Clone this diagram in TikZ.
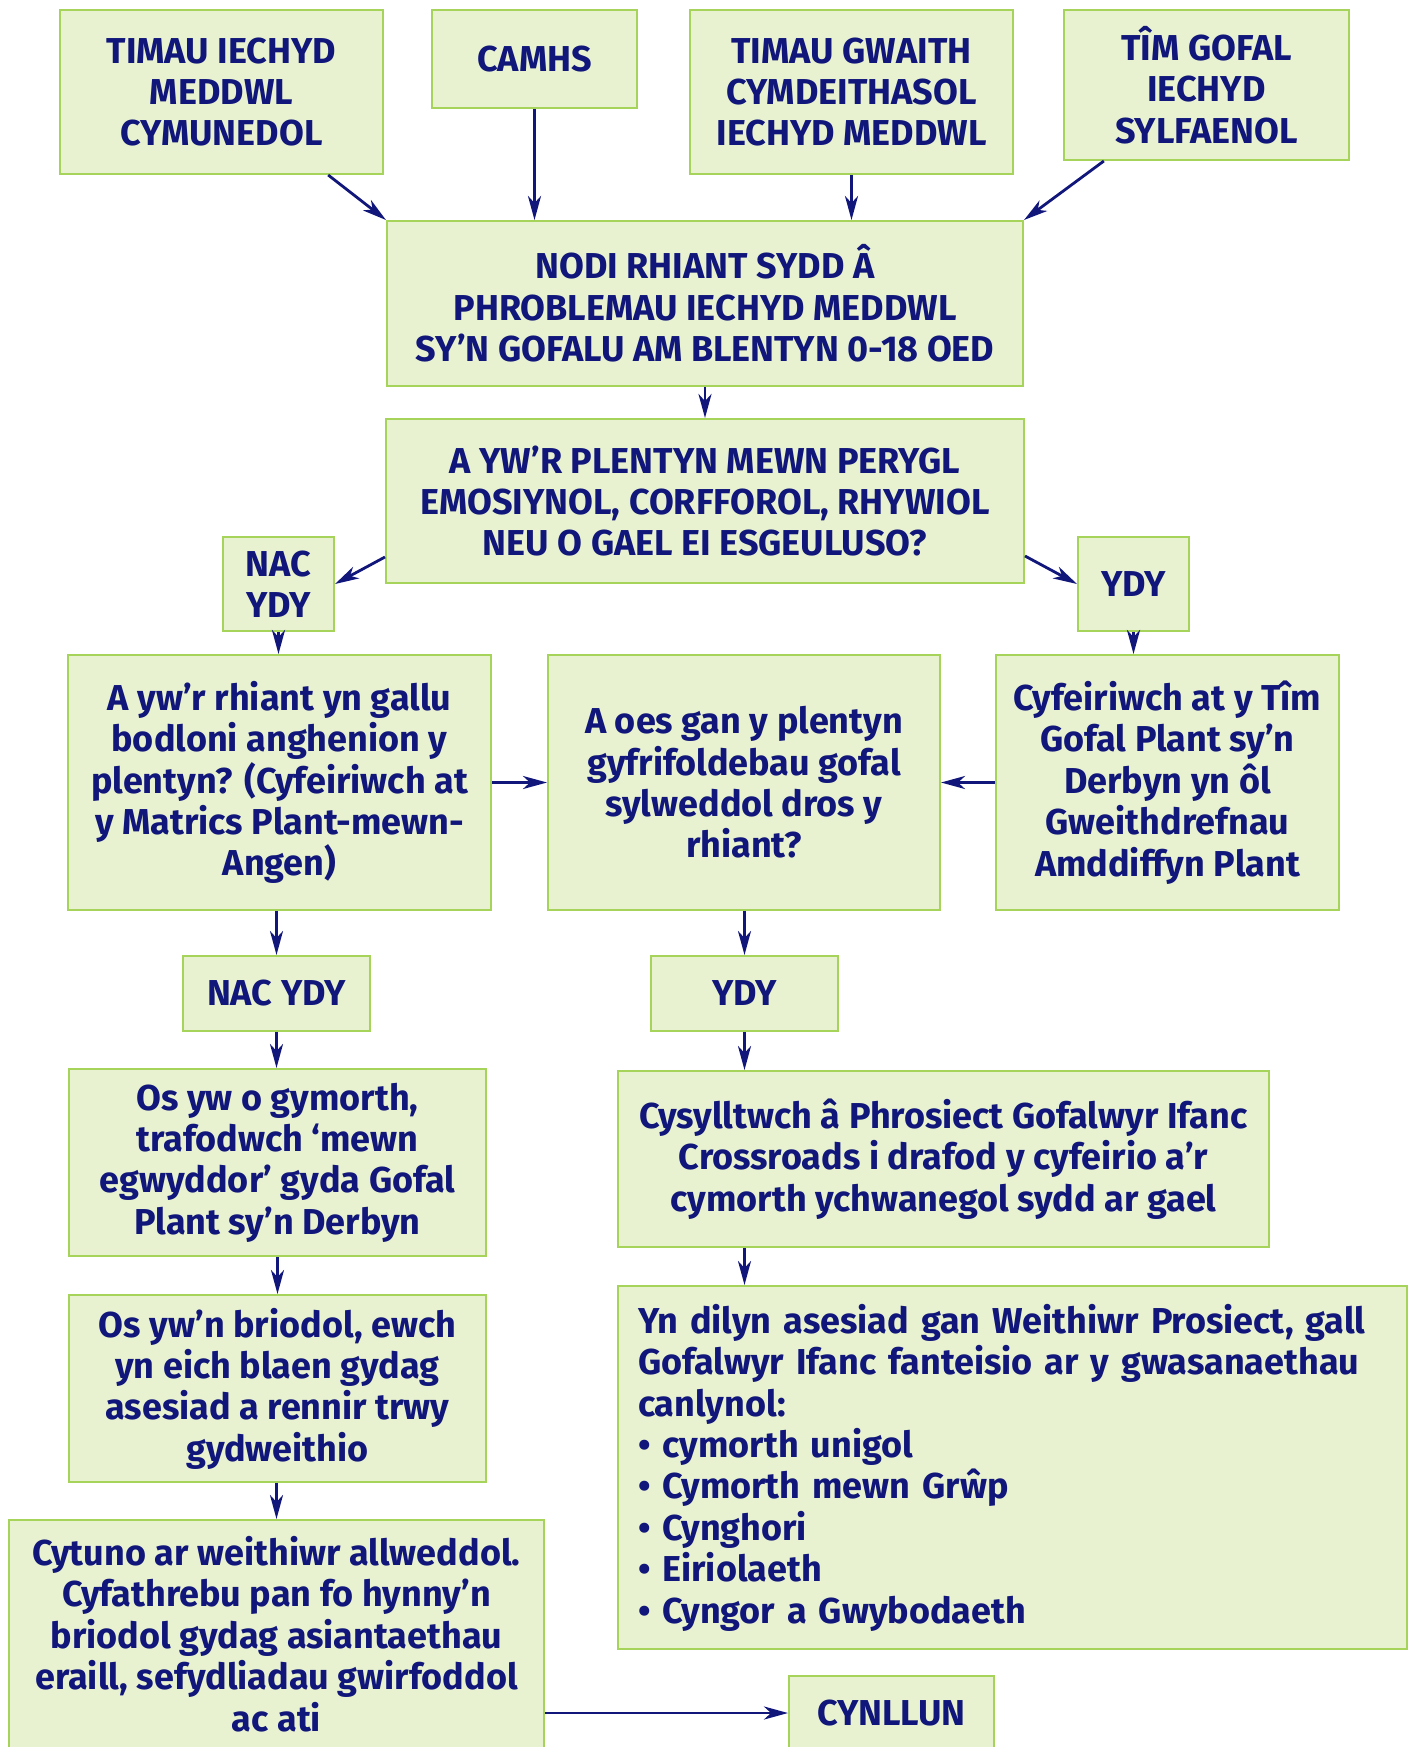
\documentclass[tikz,border=0pt]{standalone}
\usepackage{fontspec}
\setmainfont{Fira Sans}
\usetikzlibrary{arrows.meta}
\definecolor{boxfill}{RGB}{233,242,208}
\definecolor{boxedge}{RGB}{166,211,90}
\definecolor{ink}{RGB}{16,22,122}

\begin{document}
\begin{tikzpicture}[
      x=0.5pt, y=-0.5pt,
      box/.style={draw=boxedge, fill=boxfill, line width=1pt, inner sep=0pt,
        align=center, text=ink, font=\bfseries\fontsize{18pt}{20.7pt}\selectfont},
      link/.style={draw=ink, line width=1.4pt,
        -{Stealth[length=12pt,width=6.5pt,inset=3.5pt]}}
    ]
    \useasboundingbox (0,0) rectangle (1414,1747);
    \node (iechyd) [box, minimum width=161.5pt, minimum height=82pt] at (221.5,92)
      {TIMAU IECHYD\\MEDDWL\\CYMUNEDOL};
    \node (camhs) [box, minimum width=102.5pt, minimum height=49pt] at (534.5,59)
      {CAMHS};
    \node (gwaith) [box, minimum width=161.5pt, minimum height=82pt] at (851.5,92)
      {TIMAU GWAITH\\CYMDEITHASOL\\IECHYD MEDDWL};
    \node (gofal) [box, minimum width=142.5pt, minimum height=75pt] at (1206.5,85)
      {TÎM GOFAL\\IECHYD\\SYLFAENOL};
    \node (nodi) [box, minimum width=318pt, minimum height=82.5pt] at (705,303.5)
      {NODI RHIANT SYDD Â\\PHROBLEMAU IECHYD MEDDWL\\SY’N GOFALU AM BLENTYN 0-18 OED};
    \node (perygl) [box, minimum width=319pt, minimum height=82pt] at (705,501)
      {A YW’R PLENTYN MEWN PERYGL\\EMOSIYNOL, CORFFOROL, RHYWIOL\\NEU O GAEL EI ESGEULUSO?};
    \node (nacA) [box, minimum width=55.5pt, minimum height=47pt] at (278.5,584)
      {NAC\\YDY};
    \node (ydyA) [box, minimum width=55.5pt, minimum height=47pt] at (1133.5,584)
      {YDY};
    \node (rhiant) [box, minimum width=211.5pt, minimum height=127.5pt] at (279.5,782.5)
      {A yw’r rhiant yn gallu\\bodloni anghenion y\\plentyn? (Cyfeiriwch at\\y Matrics Plant-mewn-\\Angen)};
    \node (cyfrif) [box, minimum width=196pt, minimum height=127.5pt] at (744,782.5)
      {A oes gan y plentyn\\gyfrifoldebau gofal\\sylweddol dros y\\rhiant?};
    \node (cyfeir) [box, minimum width=171.5pt, minimum height=127.5pt] at (1167.5,782.5)
      {Cyfeiriwch at y Tîm\\Gofal Plant sy’n\\Derbyn yn ôl\\Gweithdrefnau\\Amddiffyn Plant};
    \node (nacB) [box, minimum width=93.5pt, minimum height=37.5pt] at (276.5,993.5)
      {NAC YDY};
    \node (ydyB) [box, minimum width=93.5pt, minimum height=37.5pt] at (744.5,993.5)
      {YDY};
    \node (gymorth) [box, minimum width=208.5pt, minimum height=93.5pt] at (277.5,1162.5)
      {Os yw o gymorth,\\trafodwch ‘mewn\\egwyddor’ gyda Gofal\\Plant sy’n Derbyn};
    \node (crossroads) [box, minimum width=325.5pt, minimum height=88pt] at (943.5,1159)
      {Cysylltwch â Phrosiect Gofalwyr Ifanc\\Crossroads i drafod y cyfeirio a’r\\cymorth ychwanegol sydd ar gael};
    \node (briodol) [box, minimum width=208.5pt, minimum height=93.5pt] at (277.5,1388.5)
      {Os yw’n briodol, ewch\\yn eich blaen gydag\\asesiad a rennir trwy\\gydweithio};
    \node (gwasan) [box, align=left, inner xsep=10pt, text width=374.5pt,
      minimum height=181.5pt] at (1012.5,1467.5)
      {Yn dilyn asesiad gan Weithiwr Prosiect, gall\\Gofalwyr Ifanc fanteisio ar y gwasanaethau\\canlynol:\\• cymorth unigol\\• Cymorth mewn Grŵp\\• Cynghori\\• Eiriolaeth\\• Cyngor a Gwybodaeth};
    \node (cytuno) [box, minimum width=267.5pt, minimum height=114pt] at (276.5,1634)
      {Cytuno ar weithiwr allweddol.\\Cyfathrebu pan fo hynny’n\\briodol gydag asiantaethau\\eraill, sefydliadau gwirfoddol\\ac ati};
    \node (cynllun) [box, minimum width=102.5pt, minimum height=37pt] at (891.5,1713)
      {CYNLLUN};
    \draw[link] (iechyd) -- (nodi.north west);
    \draw[link] (camhs) -- (camhs |- nodi.north);
    \draw[link] (gwaith) -- (gwaith |- nodi.north);
    \draw[link] (gofal) -- (nodi.north east);
    \draw[link] (nodi) -- (perygl);
    \draw[link] ([yshift=13.5pt]perygl.south west) -- (nacA.east);
    \draw[link] ([yshift=14pt]perygl.south east) -- (ydyA.west);
    \draw[link] (nacA) -- (nacA |- rhiant.north);
    \draw[link] (ydyA) -- (ydyA |- cyfeir.north);
    \draw[link] (rhiant) -- (cyfrif);
    \draw[link] (cyfeir) -- (cyfrif);
    \draw[link] (nacB |- rhiant.south) -- (nacB);
    \draw[link] (ydyB |- cyfrif.south) -- (ydyB);
    \draw[link] (nacB) -- (nacB |- gymorth.north);
    \draw[link] (ydyB) -- (ydyB |- crossroads.north);
    \draw[link] (ydyB |- crossroads.south) -- (ydyB |- gwasan.north);
    \draw[link] (gymorth) -- (briodol);
    \draw[link] (nacB |- briodol.south) -- (nacB |- cytuno.north);
    \draw[link] (cytuno.east |- cynllun) -- (cynllun);
\end{tikzpicture}
\end{document}
